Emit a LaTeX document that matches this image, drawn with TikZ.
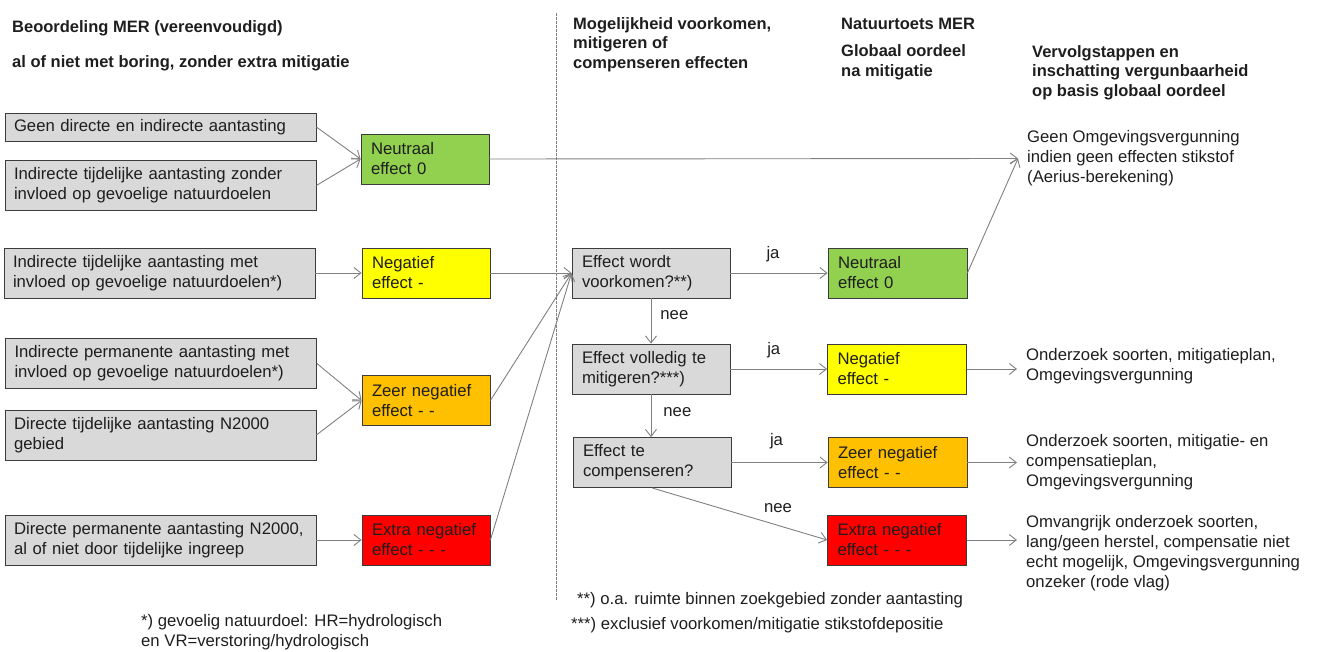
\documentclass[tikz,border=0pt]{standalone}
\usepackage{fontspec}
\setmainfont{Liberation Sans}
\usetikzlibrary{arrows.meta}
\definecolor{grijsvak}{HTML}{D9D9D9}
\definecolor{groen}{HTML}{92D050}
\definecolor{geel}{HTML}{FFFF00}
\definecolor{oranje}{HTML}{FFC000}
\definecolor{rood}{HTML}{FF0000}
\definecolor{rand}{HTML}{3C3C3C}
\definecolor{lijn}{HTML}{808080}
\definecolor{inkt}{HTML}{1E1E1E}
\tikzstyle{tekst}=[inner sep=0pt, anchor=west, align=left, text=inkt, font=\fontsize{16.7}{20}\selectfont]
\tikzstyle{kop}=[tekst, font=\fontsize{16.5}{19.5}\selectfont\bfseries]
\tikzstyle{gevolg}=[tekst, inner xsep=9pt]
\tikzstyle{antw}=[inner sep=0pt, text=inkt, font=\fontsize{16.7}{20}\selectfont]
\tikzstyle{vak}=[draw=rand, line width=0.8pt, inner ysep=0pt, align=left, text=inkt, font=\fontsize{16.7}{20}\selectfont, minimum height=50pt]
\tikzstyle{aantasting}=[vak, fill=grijsvak, inner xsep=9pt, minimum width=311pt, text width=293pt]
\tikzstyle{effect}=[vak, inner xsep=10pt, minimum width=128pt, text width=108pt]
\tikzstyle{vraag}=[vak, fill=grijsvak, inner xsep=10pt, minimum width=158pt, text width=138pt]
\tikzstyle{oordeel}=[vak, inner xsep=10pt, minimum width=139pt, text width=119pt]
\tikzstyle{pijl}=[draw=lijn, line width=0.9pt, -{Straight Barb[length=7pt, width=11pt]}]

\begin{document}
\begin{tikzpicture}[x=1pt, y=-1pt]
    \useasboundingbox (0,0) rectangle (1342,651);
    % koppen
    \node[kop] (kop1) at (12, 28) {Beoordeling MER (vereenvoudigd)};
    \node[kop] (kop1b) at (12, 63) {al of niet met boring, zonder extra mitigatie};
    \node[kop] (kop2) at (573, 44.5) {Mogelijkheid voorkomen,\\mitigeren of\\compenseren effecten};
    \node[kop] (kop3) at (841, 24) {Natuurtoets MER};
    \node[kop] (kop3b) at (841, 62.5) {Globaal oordeel\\na mitigatie};
    \node[kop] (kop4) at (1032, 72.5) {Vervolgstappen en\\inschatting vergunbaarheid\\op basis globaal oordeel};
    \draw[lijn, line width=0.6pt, dash pattern=on 2.5pt off 1.5pt] (556, 13) -- (556, 600);
    % aantastingen
    \node[aantasting, minimum height=28pt] (geen) at (160.5, 127) {Geen directe en indirecte aantasting};
    \node[aantasting] (indtijdz) at (160.5, 185.5) {Indirecte tijdelijke aantasting zonder\\invloed op gevoelige natuurdoelen};
    \node[aantasting] (indtijdm) at (159.5, 273) {Indirecte tijdelijke aantasting met\\invloed op gevoelige natuurdoelen*)};
    \node[aantasting] (indperm) at (161, 363.5) {Indirecte permanente aantasting met\\invloed op gevoelige natuurdoelen*)};
    \node[aantasting] (dirtijd) at (160.5, 435) {Directe tijdelijke aantasting N2000\\gebied};
    \node[aantasting] (dirperm) at (160.5, 540) {Directe permanente aantasting N2000,\\al of niet door tijdelijke ingreep};
    % effecten
    \node[effect, fill=groen] (neutraal) at (425, 159) {Neutraal\\effect 0};
    \node[effect, fill=geel] (negatief) at (426, 273) {Negatief\\effect -};
    \node[effect, fill=oranje] (zeerneg) at (426, 400.5) {Zeer negatief\\effect - -};
    \node[effect, fill=rood] (extraneg) at (426, 540) {Extra negatief\\effect - - -};
    % vragen
    \node[vraag] (voorkomen) at (651, 273) {Effect wordt\\voorkomen?**)};
    \node[vraag] (mitigeren) at (651, 369) {Effect volledig te\\mitigeren?***)};
    \node[vraag] (compenseren) at (652, 462.5) {Effect te\\compenseren?};
    % globaal oordeel
    \node[oordeel, fill=groen] (oneutraal) at (897.5, 273) {Neutraal\\effect 0};
    \node[oordeel, fill=geel] (onegatief) at (897, 369) {Negatief\\effect -};
    \node[oordeel, fill=oranje] (ozeerneg) at (897.5, 462.5) {Zeer negatief\\effect - -};
    \node[oordeel, fill=rood] (oextraneg) at (897, 540) {Extra negatief\\effect - - -};
    % vervolgstappen
    \node[gevolg] (stap1) at (1018, 158.5) {Geen Omgevingsvergunning\\indien geen effecten stikstof\\(Aerius-berekening)};
    \node[gevolg] (stap2) at (1017, 366) {Onderzoek soorten, mitigatieplan,\\Omgevingsvergunning};
    \node[gevolg] (stap3) at (1017, 462) {Onderzoek soorten, mitigatie- en\\compensatieplan,\\Omgevingsvergunning};
    \node[gevolg] (stap4) at (1017, 553) {Omvangrijk onderzoek soorten,\\lang/geen herstel, compensatie niet\\echt mogelijk, Omgevingsvergunning\\onzeker (rode vlag)};
    % voetnoten
    \node[tekst] (noot1) at (141, 632) {*) gevoelig natuurdoel: HR=hydrologisch\\en VR=verstoring/hydrologisch};
    \node[tekst] (noot2) at (577, 600) {**) o.a. ruimte binnen zoekgebied zonder aantasting};
    \node[tekst] (noot3) at (571, 625) {***) exclusief voorkomen/mitigatie stikstofdepositie};
    % pijlen
    \draw[pijl] (geen.east) -- (neutraal.west);
    \draw[pijl] (indtijdz.east) -- (neutraal.west);
    \draw[pijl] (indtijdm.east) -- (negatief.west);
    \draw[pijl] (indperm.east) -- (zeerneg.west);
    \draw[pijl] (dirtijd.east) -- (zeerneg.west);
    \draw[pijl] (dirperm.east) -- (extraneg.west);
    \draw[pijl] (neutraal.east) -- (stap1.west);
    \draw[pijl] (negatief.east) -- (voorkomen.west);
    \draw[pijl] (zeerneg.east) -- (voorkomen.west);
    \draw[pijl] (extraneg.east) -- (voorkomen.west);
    \draw[pijl] (voorkomen.east) -- node[antw, above=11pt, xshift=-6pt] {ja} (oneutraal.west);
    \draw[pijl] (voorkomen.south) -- node[antw, right=9pt, yshift=6pt] {nee} (voorkomen.south |- mitigeren.north);
    \draw[pijl] (mitigeren.east) -- node[antw, above=11pt, xshift=-5pt] {ja} (onegatief.west);
    \draw[pijl] (mitigeren.south) -- node[antw, right=12pt, yshift=4pt] {nee} (mitigeren.south |- compenseren.north);
    \draw[pijl] (compenseren.east) -- node[antw, above=13pt, xshift=-3pt] {ja} (ozeerneg.west);
    \draw[pijl] (compenseren.south) -- node[antw, above=12pt, pos=0.72] {nee} (oextraneg.west);
    \draw[pijl] (oneutraal.east) -- (stap1.west);
    \draw[pijl] (onegatief.east) -- (onegatief.east -| stap2.west);
    \draw[pijl] (ozeerneg.east) -- (ozeerneg.east -| stap3.west);
    \draw[pijl] (oextraneg.east) -- (oextraneg.east -| stap4.west);
\end{tikzpicture}
\end{document}
